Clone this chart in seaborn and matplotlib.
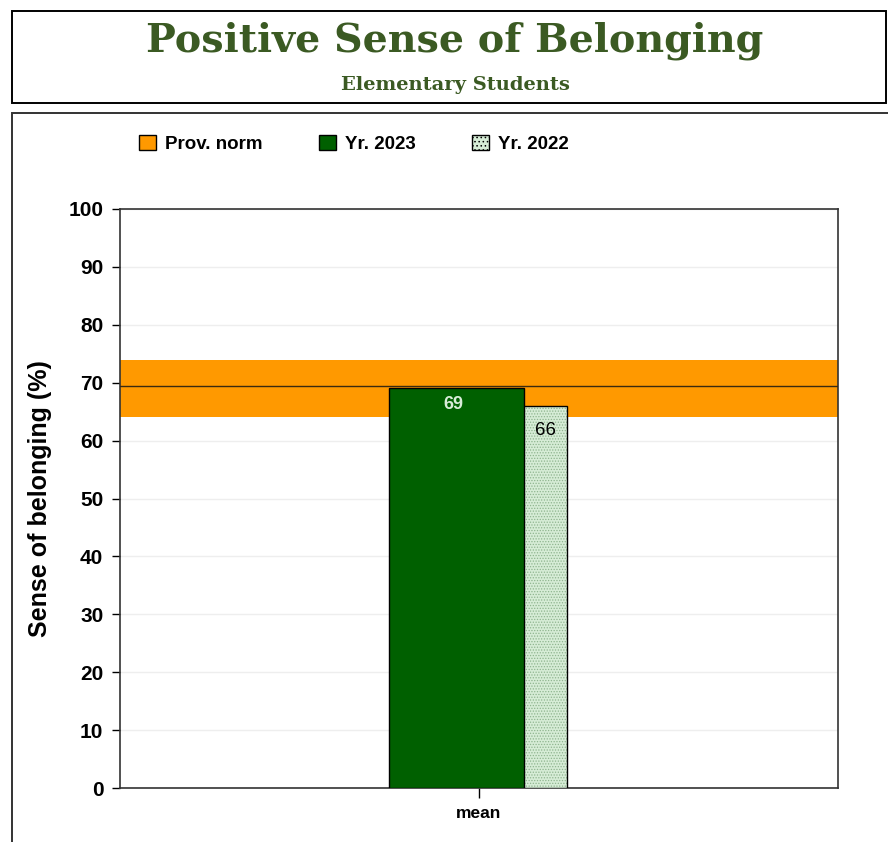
import numpy as np
import pandas as pd
import matplotlib
matplotlib.use("Agg")
import matplotlib.pyplot as plt
from matplotlib.patches import Rectangle, Patch
import seaborn as sns

# ---------------------------------------------------------------
# data
# ---------------------------------------------------------------
categories = ["mean"]
years = ["Yr. 2023", "Yr. 2022"]
values_2023 = [69]
values_2022 = [66]
norm_value = 69.5
norm_low = 64.1
norm_high = 73.9
yticks = list(range(0, 101, 10))

df = pd.DataFrame({
    "stat": categories * 2,
    "year": [years[0]] * len(categories) + [years[1]] * len(categories),
    "value": values_2023 + values_2022,
})

# ---------------------------------------------------------------
# figure
# ---------------------------------------------------------------
sns.set_style("white")
plt.rcParams["font.family"] = ["Liberation Sans", "DejaVu Sans"]
plt.rcParams["hatch.linewidth"] = 0.6
plt.rcParams["text.color"] = "black"
plt.rcParams["xtick.color"] = "black"
plt.rcParams["ytick.color"] = "black"
plt.rcParams["axes.labelcolor"] = "black"

W, H = 888, 842
fig = plt.figure(figsize=(W / 100, H / 100), dpi=100)

def px(x, y):
    return x / W, 1 - y / H

# boxes round the title and the chart
fig.patches.append(Rectangle(px(12, 103), 874 / W, 92 / H, transform=fig.transFigure,
                             fill=False, edgecolor="black", linewidth=1.4))
fig.patches.append(Rectangle(px(12, 900), 900 / W, 787 / H, transform=fig.transFigure,
                             fill=False, edgecolor="#333333", linewidth=1.4))

green_title = "#3b5a23"
fig.text(*px(455, 41), "Positive Sense of Belonging", ha="center", va="center",
         fontsize=28.5, fontweight="bold", color=green_title, family="DejaVu Serif")
fig.text(*px(455, 85), "Elementary Students", ha="center", va="center",
         fontsize=14, fontweight="bold", color=green_title, family="DejaVu Serif")

ax = fig.add_axes([120 / W, 54 / H, 718 / W, 579 / H])

sns.barplot(data=df, x="stat", y="value", hue="year", hue_order=years,
            palette=["#006000", "#d6ecd6"], saturation=1, dodge=True, width=0.376,
            edgecolor="black", linewidth=1.0, legend=False, ax=ax, zorder=3)

# overlap the two bars: 2023 in front, 2022 behind and shifted right
bar_w = 135 / 718
offsets = {0: -0.032, 1: 0.029}
for i, p in enumerate(ax.patches[:2]):
    p.set_width(bar_w)
    p.set_x(offsets[i] - bar_w / 2)
    p.set_zorder(4 if i == 0 else 3)
ax.patches[1].set_hatch("......")
ax.patches[1]._hatch_color = matplotlib.colors.to_rgba("#8fb58f")

# provincial norm band and line
ax.axhspan(norm_low, norm_high, color="#ff9900", zorder=2, linewidth=0)
ax.axhline(norm_value, color="#3a2a10", linewidth=1.0, zorder=5)

ax.text(-0.035, values_2023[0] - 2.8, str(values_2023[0]), ha="center", va="center",
        fontsize=13, fontweight="bold", color="#d8ecd8", zorder=6)
ax.text(0.092, values_2022[0] - 4.2, str(values_2022[0]), ha="center", va="center",
        fontsize=13.5, color="black", zorder=6)

ax.set_xlim(-0.5, 0.5)
ax.set_ylim(0, 100)
ax.set_yticks(yticks)
ax.yaxis.grid(True, color="#eeeeee", linewidth=1.0, zorder=0)
ax.set_axisbelow(True)
for s in ax.spines.values():
    s.set_color("#333333")
    s.set_linewidth(1.2)
ax.tick_params(axis="y", direction="out", length=6, width=1.0, left=True,
               labelsize=15, pad=6)
ax.tick_params(axis="x", direction="out", length=7, width=1.0, bottom=True,
               labelsize=12.5, pad=6)
for lab in ax.get_yticklabels() + ax.get_xticklabels():
    lab.set_fontweight("bold")
ax.set_xlabel("")
ax.set_ylabel("Sense of belonging (%)", fontsize=18, fontweight="bold", labelpad=12)

handles = [Patch(facecolor="#ff9900", edgecolor="black", label="Prov. norm"),
           Patch(facecolor="#006000", edgecolor="black", label="Yr. 2023"),
           Patch(facecolor="#d6ecd6", edgecolor="black", hatch="....", label="Yr. 2022")]
leg = fig.legend(handles=handles, loc="center left", bbox_to_anchor=px(122, 144),
                 ncol=3, frameon=False, handlelength=0.9, handleheight=0.9,
                 columnspacing=3.0, handletextpad=0.5, prop={"weight": "bold", "size": 13.5})

fig.savefig("out.png", dpi=100)
